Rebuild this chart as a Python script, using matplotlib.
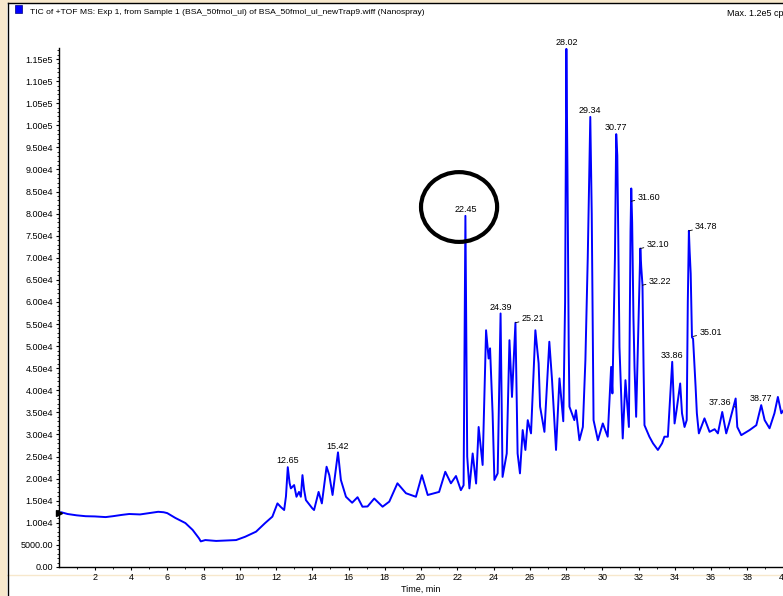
import matplotlib
matplotlib.use("Agg")
import matplotlib.pyplot as plt
from matplotlib.patches import Ellipse, Rectangle
from matplotlib.lines import Line2D
import numpy as np

plt.rcParams["font.family"] = ["Liberation Sans", "DejaVu Sans"]

# TIC trace: time (min) and intensity (cps)
times = [
    0.00, 0.15, 0.5, 1.0, 1.5, 2.0, 2.6, 3.0, 3.5, 3.9, 4.5, 5.0, 5.5, 5.8, 6.0,
    6.45, 7.0, 7.4, 7.75, 7.85, 8.1, 8.7, 9.3, 9.8, 10.3, 10.9, 11.4, 11.8,
    12.08, 12.26, 12.45, 12.55, 12.65, 12.75, 12.82, 13.0, 13.13, 13.27, 13.37,
    13.46, 13.55, 13.65, 14.0, 14.1, 14.35, 14.53, 14.79, 14.94, 15.12, 15.42,
    15.58, 15.86, 16.2, 16.5, 16.77, 17.05, 17.42, 17.88, 18.25, 18.7, 19.17,
    19.72, 20.05, 20.37, 21.0, 21.34, 21.65, 21.93, 22.2, 22.35, 22.45, 22.55,
    22.67, 22.85, 23.04, 23.18, 23.4, 23.59, 23.73, 23.81, 23.95, 24.05, 24.23,
    24.39, 24.5, 24.73, 24.88, 25.02, 25.21, 25.33, 25.46, 25.61, 25.76, 25.89,
    26.07, 26.31, 26.49, 26.57, 26.81, 27.08, 27.23, 27.45, 27.64, 27.85, 27.95,
    28.02, 28.08, 28.15, 28.19, 28.46, 28.55, 28.74, 28.93, 29.07, 29.2, 29.34,
    29.42, 29.52, 29.76, 30.03, 30.3, 30.49, 30.56, 30.7, 30.77, 30.83, 30.88,
    30.95, 31.13, 31.28, 31.47, 31.56, 31.60, 31.65, 31.72, 31.78, 31.87, 32.0,
    32.10, 32.15, 32.22, 32.28, 32.33, 32.6, 32.8, 33.07, 33.3, 33.43, 33.62,
    33.86, 33.99, 34.1, 34.3, 34.4, 34.54, 34.66, 34.72, 34.78, 34.82, 34.88,
    34.95, 35.01, 35.15, 35.22, 35.33, 35.64, 35.92, 36.2, 36.38, 36.62, 36.84,
    37.0, 37.36, 37.45, 37.67, 38.13, 38.5, 38.77, 38.96, 39.23, 39.5, 39.69,
    39.88, 40.0,
]
intensity = [
    12200, 12400, 12000, 11700, 11500, 11450, 11300, 11500, 11800, 12000, 11900,
    12200, 12500, 12400, 12200, 11100, 9950, 8400, 6500, 5800, 6100, 5900, 6000,
    6100, 6850, 8000, 9950, 11400, 14400, 13600, 12900, 16000, 22600, 19000,
    17800, 18550, 15900, 17000, 15900, 20800, 17500, 15150, 13300, 12900, 17000,
    14400, 22700, 20800, 16300, 25950, 19700, 15900, 14550, 15800, 13650, 13700,
    15500, 13650, 14800, 18950, 16700, 15900, 20800, 16300, 17000, 21560, 18950,
    20600, 17400, 18500, 79500, 25000, 17800, 25700, 18900, 31700, 23100, 53600,
    47200, 49500, 34800, 19700, 21200, 57400, 20400, 25700, 51350, 38500, 55300,
    25700, 21200, 31000, 26500, 33250, 30250, 53600, 46100, 36300, 30600, 51000,
    42300, 26500, 42700, 33000, 60000, 117300, 90000, 50000, 36300, 33250, 35500,
    28700, 31700, 46800, 70000, 101900, 80000, 33250, 28700, 32500, 29500, 45300,
    39300, 70000, 98000, 93200, 76000, 49800, 29100, 42300, 31700, 76000, 85700,
    78000, 56600, 45300, 34000, 55000, 72100, 68000, 63800, 45000, 32100, 29500,
    28000, 26500, 28000, 29500, 29500, 46450, 32500, 35500, 41550, 34800, 31700,
    33250, 60000, 76100, 71700, 66400, 52000, 51700, 40800, 34800, 30250, 33650,
    30600, 31200, 30250, 35100, 30250, 32500, 38150, 31700, 29850, 31000, 32100,
    36650, 33250, 31400, 34800, 38500, 34800, 35500,
]

# peak labels and the intensity where each label attaches
peak_times = [12.65, 15.42, 22.45, 24.39, 25.21, 28.02, 29.34, 30.77,
              31.60, 32.10, 32.22, 33.86, 34.78, 35.01, 37.36, 38.77]
peak_heights = [22600, 25950, 79500, 57400, 55300, 117300, 101900, 98000,
                82800, 72100, 63800, 46450, 76100, 52200, 36200, 36650]
label_side = ["c", "c", "c", "c", "r", "c", "c", "c",
              "r", "r", "r", "c", "r", "r", "l", "c"]

title = "TIC of +TOF MS: Exp 1, from Sample 1 (BSA_50fmol_ul) of BSA_50fmol_ul_newTrap9.wiff (Nanospray)"
max_text = "Max. 1.2e5 cps"
x_label = "Time, min"
circled_peak = 22.45


def sciLabel(v):
    if v == 0:
        return "0.00"
    if v < 10000:
        return f"{v:.2f}"
    m, e = f"{v:.2e}".split("e")
    return f"{m}e{int(e)}"


W, H = 783, 596
fig = plt.figure(figsize=(W / 100, H / 100), dpi=100)
fig.patch.set_facecolor("white")

# window frame bits of the screenshot
beige = "#f7e8cc"
fig.add_artist(Rectangle((0, 0), 7.5 / W, 1, transform=fig.transFigure,
                         facecolor=beige, edgecolor="none", zorder=0))
fig.add_artist(Rectangle((0, 1 - 2.5 / H), 1, 2.5 / H, transform=fig.transFigure,
                         facecolor=beige, edgecolor="none", zorder=0))
fig.add_artist(Line2D([0, 1], [1 - 575 / H] * 2, color=beige, lw=1, zorder=0))
fig.add_artist(Line2D([8 / W, 8 / W], [0, 1 - 3 / H], color="black", lw=1))
fig.add_artist(Line2D([8 / W, 1], [1 - 3 / H] * 2, color="black", lw=1))

fig.add_artist(Rectangle((15 / W, 1 - 12.5 / H), 7 / W, 7.5 / H, transform=fig.transFigure,
                         facecolor="#0000ff", edgecolor="#000080", lw=0.5))
fig.text(30 / W, 1 - 13 / H, title, fontsize=6.1, va="center", ha="left")
fig.text(727 / W, 1 - 13 / H, max_text, fontsize=6.5, va="center", ha="left")

ax = fig.add_axes([58.5 / W, 29 / H, 725 / W, 519 / H])
ax.set_facecolor("none")
ax.plot(times, intensity, color="#0000ff", lw=1.4, zorder=3)
ax.plot(times[0], intensity[0], marker=">", ms=5, color="black", clip_on=False, zorder=4)

ax.set_xlim(0, 40)
ax.set_ylim(0, 117500)

for sp in ["top", "right"]:
    ax.spines[sp].set_visible(False)
for sp in ["left", "bottom"]:
    ax.spines[sp].set_linewidth(1.0)

yt = np.arange(0, 115001, 5000)
ax.set_yticks(yt)
ax.set_yticklabels([sciLabel(v) for v in yt])
ax.set_yticks(np.arange(0, 117001, 1000), minor=True)
ax.set_xticks(np.arange(2, 41, 2))
ax.set_xticks(np.arange(1, 40, 2), minor=True)
ax.tick_params(axis="both", which="major", length=2.5, width=0.8, labelsize=6.5, pad=1.5)
ax.tick_params(axis="both", which="minor", length=1.3, width=0.6)
ax.set_xlabel(x_label, fontsize=6.5, labelpad=2)

# peak labels
for t, h, side in zip(peak_times, peak_heights, label_side):
    txt = f"{t:.2f}"
    if side == "c":
        ax.annotate(txt, (t, h), xytext=(0, 4.5), textcoords="offset points",
                    ha="center", va="center", fontsize=6.5, zorder=5)
    elif side == "r":
        ax.annotate(txt, (t, h), xytext=(4.5, 3), textcoords="offset points",
                    ha="left", va="center", fontsize=6.5, zorder=5,
                    arrowprops=dict(arrowstyle="-", lw=0.6, color="black",
                                    shrinkA=0, shrinkB=0))
    else:
        ax.annotate(txt, (t, h), xytext=(-3, 3), textcoords="offset points",
                    ha="right", va="center", fontsize=6.5, zorder=5,
                    arrowprops=dict(arrowstyle="-", lw=0.6, color="black",
                                    shrinkA=0, shrinkB=0))

# hand-drawn circle around the 22.45 peak label
ci = peak_times.index(circled_peak)
ax.add_patch(Ellipse((peak_times[ci] - 0.35, peak_heights[ci] + 2000), 4.2, 15800,
                     fill=False, edgecolor="black", lw=3, zorder=6))

fig.savefig("out.png", dpi=100)
